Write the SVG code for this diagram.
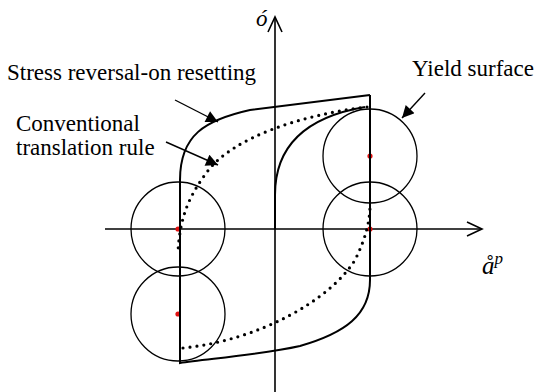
<svg xmlns="http://www.w3.org/2000/svg" width="539" height="392" viewBox="0 0 539 392">
<style>
.ax{stroke:#000;stroke-width:1.6;fill:none}
.cir{stroke:#000;stroke-width:1.3;fill:none}
.cur{stroke:#000;stroke-width:2;fill:none}
.dot{stroke:#000;stroke-width:3.2;fill:none;stroke-linecap:round;stroke-dasharray:0 7}
.ctr{fill:#e01010}
.ptr{stroke:#000;stroke-width:1.4;fill:none}
</style>
<defs>
<marker id="ah" viewBox="0 0 10 10" refX="10" refY="5" markerWidth="14" markerHeight="12" markerUnits="userSpaceOnUse" orient="auto">
<path d="M0,0 L10,5 L0,10 Z" fill="#000"/>
</marker>
</defs>
<g id="axes">
<path class="ax" d="M275,392 L275,18"/>
<path class="ax" d="M268,32 L275,17 L282,32"/>
<path class="ax" d="M105,229 L481,229"/>
<path class="ax" d="M467,222 L482,229 L467,236"/>
<text x="256" y="26" font-family="'Liberation Serif', 'DejaVu Serif', serif" font-style="italic" font-size="23">ó</text>
<text x="482" y="274" font-family="'Liberation Serif', 'DejaVu Serif', serif" font-style="italic" font-size="25">å<tspan font-size="17" dy="-10">p</tspan></text>
</g>
<g id="yield-circles">
<circle class="cir" cx="178" cy="229" r="47"/>
<circle class="cir" cx="178" cy="314" r="47"/>
<circle class="cir" cx="370" cy="156" r="47"/>
<circle class="cir" cx="370" cy="229" r="47"/>
<circle class="ctr" cx="178" cy="229" r="2.6"/>
<circle class="ctr" cx="178" cy="314" r="2.6"/>
<circle class="ctr" cx="370" cy="156" r="2.6"/>
<circle class="ctr" cx="370" cy="229" r="2.6"/>
</g>
<g id="stress-reversal-curve">
<path class="cur" d="M370,95 L370,280 C370,315 345,333 300,346 C260,355 205,359 180,363 L180,180 C180,135 205,120 250,110 L370,95"/>
<path class="cur" d="M275,229 L275,195 C275,150 300,118 365,107"/>
</g>
<g id="conventional-curve">
<path class="dot" d="M367,107 C300,115 232,138 207,172 C190,195 180,215 178,252"/>
<path class="dot" d="M183,348 C260,340 330,300 355,260 C365,240 370,222 370,205"/>
</g>
<g id="labels" font-family="'Liberation Serif', 'DejaVu Serif', serif" font-size="23">
<text x="7" y="80">Stress reversal-on resetting</text>
<text x="16" y="131">Conventional</text>
<text x="16" y="155">translation rule</text>
<text x="412" y="76">Yield surface</text>
</g>
<g id="connectors">
<path class="ptr" d="M175,100 L218,122" marker-end="url(#ah)"/>
<path class="ptr" d="M166,142 L218,165" marker-end="url(#ah)"/>
<path class="ptr" d="M425,93 L402,118" marker-end="url(#ah)"/>
</g>
</svg>
